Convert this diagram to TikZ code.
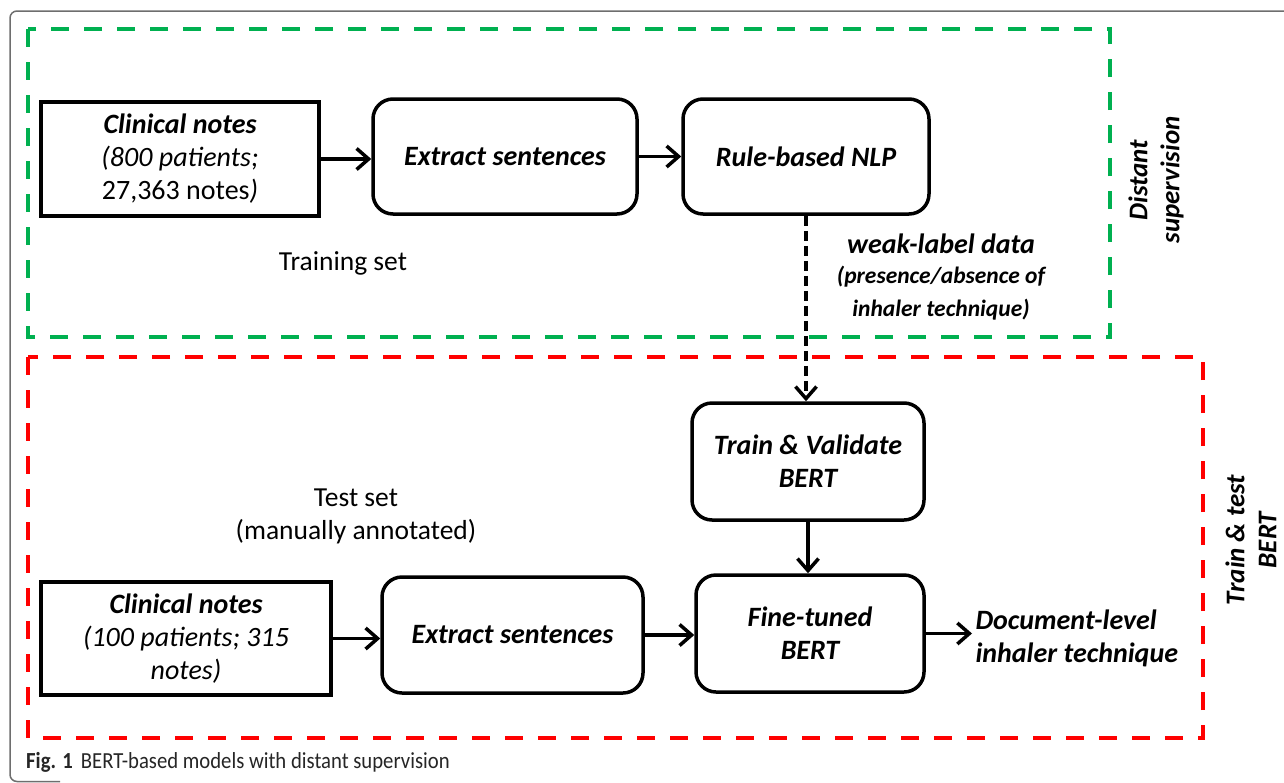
\documentclass[tikz,border=0pt]{standalone}
\usepackage{fontspec}
\setmainfont{Carlito}
\usetikzlibrary{arrows.meta}
\definecolor{dgreen}{RGB}{0,176,80}
\definecolor{dred}{RGB}{255,0,0}
\definecolor{framegray}{RGB}{110,110,110}
\newcommand{\smallsub}{\fontsize{23.5}{28}\selectfont}
\begin{document}
\begin{tikzpicture}[x=1pt,y=-1pt,
  boxtext/.style={font=\bfseries\itshape\fontsize{28}{33}\selectfont, align=center},
  sqbox/.style={draw=black, line width=3.5pt, inner sep=0pt, boxtext},
  rbox/.style={sqbox, rounded corners=20pt},
  conn/.style={draw=black, line width=3.5pt, -{Straight Barb[length=12pt,width=21pt,line width=3.5pt]}},
  dconn/.style={conn, dash pattern=on 10pt off 5pt},
  greenframe/.style={draw=dgreen, line width=4pt, dash pattern=on 18pt off 15pt},
  redframe/.style={draw=dred, line width=4.5pt, dash pattern=on 18pt off 15pt},
  plain/.style={font=\fontsize{27.5}{33}\selectfont, align=center},
  sidelabel/.style={boxtext, rotate=90, inner sep=1pt, font=\bfseries\itshape\fontsize{27}{32}\selectfont}]
\useasboundingbox (0,0) rectangle (1284,782);
\fill[white] (0,0) rectangle (1284,782);
% outer frame
\draw[framegray, line width=1.5pt, rounded corners=7pt] (1300,11) -- (10,11) -- (10,781.5) -- (60,781.5);
% frames
\draw[greenframe] (28,29) rectangle (1110,337);
\draw[redframe] (28,357) rectangle (1203,738);
% boxes
\node[sqbox, minimum width=278pt, minimum height=114pt] (cn1) at (180,159)
  {Clinical notes\\ \mdseries(800 patients;\\ \upshape\mdseries 27,363 notes\itshape)};
\node[rbox, minimum width=264pt, minimum height=115pt] (es1) at (505,156.5) {Extract sentences};
\node[rbox, minimum width=246pt, minimum height=115pt] (rb) at (806,156.5) {Rule-based NLP};
\node[rbox, minimum width=232pt, minimum height=117pt] (tv) at (808,461.5) {Train \& Validate\\ BERT};
\node[rbox, minimum width=228pt, minimum height=117pt] (ft) at (810,633.5) {Fine-tuned\\ BERT};
\node[sqbox, minimum width=290pt, minimum height=113pt] (cn2) at (186,638.5)
  {Clinical notes\\ \mdseries(100 patients; 315\\ \mdseries notes)};
\node[rbox, minimum width=261pt, minimum height=116pt] (es2) at (512.5,635) {Extract sentences};
% labels
\node[plain] (train) at (343,263) {Training set};
\node[plain] (test) at (356,516) {Test set\\ (manually annotated)};
\node[boxtext, anchor=north] (weak) at (941,230)
  {weak-label data\\[-3pt] \smallsub (presence/absence of\\ \smallsub inhaler technique)};
\node[boxtext, align=left, anchor=west] (doc) at (972,638.5) {Document-level\\ inhaler technique};
\node[sidelabel] (ds) at (1156,180) {Distant\\ supervision};
\node[sidelabel] (ttb) at (1251,540) {Train \& test\\ BERT};
% caption
\node[anchor=west, inner sep=0pt, font=\fontsize{23}{25}\selectfont, text=black!85] (cap) at (26,762)
  {\scalebox{0.9}[1]{\textbf{Fig. 1}\hspace{9pt}BERT-based models with distant supervision}};
% connectors
\draw[conn] (cn1.east) -- (es1.west |- cn1.east);
\draw[conn] (es1.east) -- (rb.west);
\draw[dconn] (rb.south) -- (rb.south |- tv.north);
\draw[conn] (tv.south) -- (tv.south |- ft.north);
\draw[conn] (cn2.east) -- (es2.west |- cn2.east);
\draw[conn] (es2.east) -- (ft.west |- es2.east);
\draw[conn] (ft.east) -- (doc.west |- ft.east);
\end{tikzpicture}
\end{document}
